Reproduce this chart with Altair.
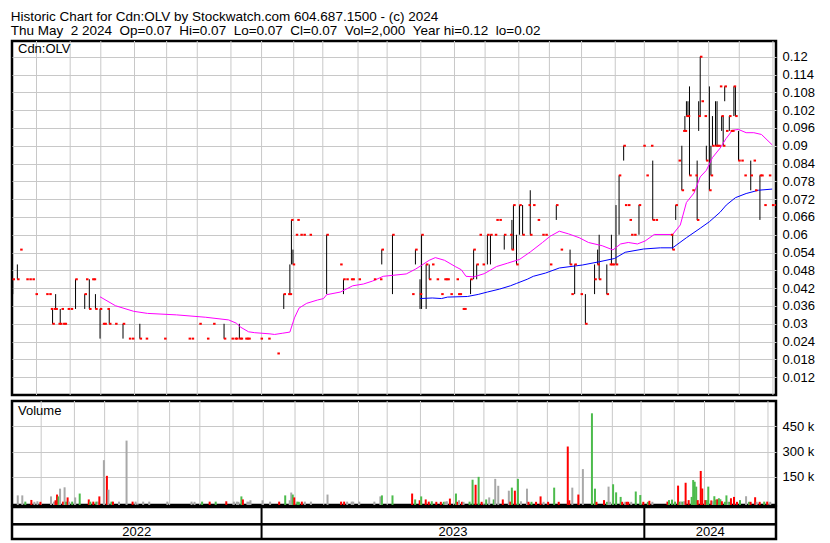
import altair as alt
import pandas as pd

FONT = "Liberation Sans"
GRID = "#c8c8c8"

header_lines = [
    "Historic Chart for Cdn:OLV by Stockwatch.com 604.687.1500 - (c) 2024",
    "Thu May\u00a0\u00a02 2024\u00a0\u00a0Op=0.07\u00a0\u00a0Hi=0.07\u00a0\u00a0Lo=0.07\u00a0\u00a0Cl=0.07\u00a0\u00a0Vol=2,000\u00a0\u00a0Year hi=0.12\u00a0\u00a0lo=0.02",
]
price_ticks = [0.012, 0.018, 0.024, 0.03, 0.036, 0.042, 0.048, 0.054, 0.06, 0.066,
               0.072, 0.078, 0.084, 0.09, 0.096, 0.102, 0.108, 0.114, 0.12]
volume_ticks = [150000, 300000, 450000]
holidays = ["2022-05-23", "2022-07-01", "2022-08-01", "2022-09-05", "2022-10-10", "2022-12-26",
            "2022-12-27", "2023-01-02", "2023-02-20", "2023-04-07", "2023-05-22", "2023-07-03",
            "2023-08-07", "2023-09-04", "2023-10-09", "2023-12-25", "2023-12-26", "2024-01-01",
            "2024-02-19", "2024-03-29"]

# trading session number (0 = 2022-05-09 ... 498 = 2024-05-02)
session = [0, 3, 5, 9, 11, 13, 15, 22, 24, 25,
           26, 27, 28, 30, 31, 32, 33, 34, 36, 38,
           41, 47, 48, 50, 52, 53, 54, 57, 59, 60,
           62, 63, 67, 72, 76, 78, 83, 87, 99, 115,
           117, 122, 127, 131, 138, 143, 145, 146, 148, 149,
           152, 153, 154, 162, 167, 173, 177, 180, 181, 182,
           183, 185, 186, 188, 190, 194, 205, 214, 216, 218,
           221, 222, 226, 236, 240, 241, 248, 261, 263, 266,
           267, 270, 272, 274, 277, 280, 282, 283, 284, 286,
           290, 291, 292, 294, 295, 299, 301, 303, 305, 307,
           310, 312, 315, 316, 318, 321, 325, 326, 327, 329,
           331, 333, 337, 338, 340, 343, 346, 348, 351, 355,
           358, 364, 365, 367, 371, 374, 380, 382, 383, 388,
           390, 391, 392, 394, 396, 399, 400, 402, 403, 404,
           406, 409, 412, 414, 417, 418, 420, 430, 431, 433,
           435, 437, 438, 439, 440, 441, 442, 444, 446, 447,
           448, 449, 450, 452, 453, 455, 456, 457, 459, 460,
           461, 462, 463, 464, 465, 466, 468, 469, 470, 471,
           472, 474, 476, 478, 482, 484, 485, 488, 489, 491,
           494, 496, 498]
high = [.045, .05, .055, .045, .045, .045, .04, .04, .04, .035,
        .035, .035, .04, .03, .035, .035, .03, .03, .035, .035,
        .045, .04, .045, .045, .045, .045, .04, .035, .03, .03,
        .035, .035, .03, .03, .025, .025, .03, .025, .025, .025,
        .025, .03, .025, .03, .03, .025, .025, .025, .03, .025,
        .025, .025, .025, .025, .025, .02, .04, .04, .05, .065,
        .055, .06, .065, .06, .06, .06, .06, .05, .045, .045,
        .045, .045, .045, .045, .045, .055, .06, .04, .055, .045,
        .06, .05, .05, .05, .045, .04, .045, .045, .045, .04,
        .045, .04, .04, .035, .035, .045, .055, .05, .06, .05,
        .06, .06, .06, .065, .065, .06, .06, .065, .07, .06,
        .07, .07, .07, .075, .07, .065, .06, .06, .05, .07,
        .055, .055, .04, .05, .04, .04, .05, .055, .06, .05,
        .05, .06, .05, .07, .08, .09, .07, .07, .065, .06,
        .06, .07, .09, .08, .09, .085, .065, .06, .06, .07,
        .085, .09, .095, .10, .105, .105, .11, .075, .08, .085,
        .105, .12, .105, .10, .09, .11, .09, .10, .105, .105,
        .09, .11, .10, .10, .11, .095, .10, .095, .095, .11,
        .11, .095, .085, .08, .085, .085, .075, .08, .08, .07,
        .08, .07, .07]
low = [.04, .045, .055, .045, .045, .045, .04, .04, .04, .035,
       .03, .035, .035, .03, .03, .035, .03, .03, .035, .035,
       .035, .035, .045, .035, .045, .045, .035, .025, .03, .03,
       .035, .03, .03, .025, .025, .025, .025, .025, .025, .025,
       .025, .03, .025, .03, .025, .025, .025, .025, .025, .025,
       .025, .025, .025, .025, .025, .02, .035, .04, .04, .05,
       .05, .06, .065, .06, .06, .06, .04, .05, .04, .045,
       .045, .045, .045, .045, .045, .05, .04, .04, .05, .035,
       .035, .035, .045, .05, .045, .04, .045, .045, .045, .04,
       .045, .04, .04, .035, .035, .04, .045, .045, .06, .05,
       .05, .05, .06, .065, .065, .055, .06, .055, .055, .05,
       .06, .06, .07, .06, .07, .065, .06, .06, .05, .065,
       .055, .05, .04, .04, .04, .03, .04, .05, .045, .04,
       .05, .05, .05, .05, .06, .085, .07, .07, .065, .06,
       .06, .06, .09, .08, .09, .065, .065, .06, .055, .065,
       .085, .075, .095, .095, .10, .10, .08, .075, .08, .065,
       .095, .10, .105, .10, .085, .075, .08, .09, .09, .09,
       .09, .11, .095, .09, .105, .095, .095, .095, .095, .10,
       .10, .085, .085, .08, .075, .085, .075, .065, .08, .07,
       .08, .07, .07]
close = [.045, .045, .055, .045, .045, .045, .04, .04, .04, .035,
         .03, .035, .035, .03, .03, .035, .03, .03, .035, .035,
         .045, .04, .045, .035, .045, .045, .035, .035, .03, .03,
         .035, .03, .03, .03, .025, .025, .025, .025, .025, .025,
         .025, .03, .025, .03, .025, .025, .025, .025, .025, .025,
         .025, .025, .025, .025, .025, .02, .04, .04, .04, .065,
         .05, .06, .065, .06, .06, .06, .06, .05, .045, .045,
         .045, .045, .045, .045, .045, .055, .06, .04, .055, .04,
         .06, .05, .045, .05, .045, .04, .045, .045, .045, .04,
         .045, .04, .04, .035, .035, .045, .055, .05, .06, .05,
         .06, .06, .06, .065, .065, .06, .06, .055, .07, .05,
         .07, .06, .07, .06, .07, .065, .06, .06, .05, .07,
         .055, .05, .04, .05, .04, .03, .045, .05, .045, .04,
         .05, .05, .05, .05, .08, .09, .07, .07, .065, .06,
         .06, .07, .09, .08, .09, .065, .065, .06, .055, .07,
         .085, .075, .095, .095, .10, .10, .08, .075, .08, .065,
         .10, .12, .105, .10, .085, .075, .08, .09, .09, .09,
         .09, .11, .10, .09, .11, .095, .10, .095, .095, .11,
         .10, .085, .085, .08, .08, .085, .075, .08, .08, .07,
         .08, .07, .07]
volume_k = [40, 40, 3, 13, 2, 5, 2, 34, 3, 11,
            45, 34, 80, 3, 88, 3, 28, 3, 3, 28,
            51, 16, 3, 3, 3, 3, 34, 249, 156, 74,
            3, 3, 3, 365, 3, 3, 3, 3, 3, 3,
            2, 3, 3, 3, 5, 3, 3, 2, 34, 16,
            3, 2, 11, 11, 3, 3, 40, 11, 57, 45,
            28, 3, 2, 3, 3, 3, 45, 3, 3, 3,
            3, 3, 3, 3, 34, 40, 40, 51, 16, 11,
            34, 16, 3, 5, 2, 2, 2, 3, 5, 21,
            51, 2, 11, 2, 2, 3, 133, 103, 150, 2,
            16, 28, 16, 138, 97, 16, 68, 3, 86, 68,
            138, 5, 80, 2, 2, 2, 34, 2, 2, 86,
            2, 330, 11, 86, 45, 196, 527, 80, 2, 12,
            2, 92, 2, 106, 58, 31, 2, 2, 2, 2,
            2, 63, 42, 2, 2, 8, 2, 3, 12, 15,
            3, 98, 3, 3, 3, 5, 115, 12, 31, 131,
            121, 92, 12, 185, 81, 12, 12, 92, 10, 5,
            35, 15, 17, 23, 17, 5, 2, 40, 2, 2,
            23, 31, 2, 12, 35, 2, 2, 29, 2, 2,
            3, 3, 2]
move = ["f", "f", "u", "d", "f", "f", "d", "f", "f", "d",
        "d", "u", "f", "d", "f", "u", "d", "f", "u", "f",
        "u", "d", "u", "d", "u", "f", "d", "f", "d", "f",
        "u", "d", "f", "f", "d", "f", "f", "f", "f", "f",
        "f", "u", "d", "u", "d", "f", "f", "f", "u", "d",
        "f", "f", "f", "f", "f", "d", "u", "f", "f", "u",
        "d", "u", "u", "d", "f", "f", "f", "d", "d", "f",
        "f", "f", "f", "f", "f", "u", "u", "d", "u", "d",
        "u", "d", "d", "u", "d", "d", "u", "f", "f", "d",
        "u", "d", "f", "d", "f", "u", "u", "d", "u", "d",
        "u", "f", "u", "f", "f", "d", "f", "d", "u", "d",
        "u", "f", "f", "d", "u", "d", "d", "f", "d", "u",
        "d", "d", "d", "f", "d", "f", "u", "u", "d", "d",
        "u", "f", "f", "u", "u", "u", "d", "f", "d", "d",
        "f", "u", "u", "d", "u", "d", "f", "d", "u", "u",
        "u", "d", "u", "f", "u", "f", "d", "d", "u", "u",
        "u", "u", "d", "d", "d", "d", "u", "u", "d", "f",
        "u", "u", "d", "u", "u", "d", "u", "u", "f", "u",
        "d", "d", "d", "u", "f", "u", "d", "d", "f", "d",
        "u", "d", "f"]

# moving averages
ma_pink_session = [57, 67, 72, 79, 88, 107, 126, 141, 146, 149,
                   154, 158, 168, 171, 176, 181, 184, 187, 192, 199,
                   203, 205, 214, 222, 229, 235, 242, 257, 263, 267,
                   272, 276, 282, 289, 293, 296, 301, 308, 316, 323,
                   331, 338, 346, 351, 357, 363, 370, 376, 385, 392,
                   397, 402, 408, 413, 419, 431, 436, 440, 445, 449,
                   453, 457, 462, 466, 470, 474, 479, 484, 489, 496]
ma_pink = [0.0391, 0.0361, 0.0353, 0.0342, 0.0335, 0.0330, 0.0322, 0.0313, 0.0302, 0.0288,
           0.0273, 0.0270, 0.0266, 0.0264, 0.0268, 0.0272, 0.0320, 0.0353, 0.0369, 0.0380,
           0.0385, 0.0398, 0.0407, 0.0428, 0.0434, 0.0444, 0.0460, 0.0468, 0.0484, 0.0497,
           0.0514, 0.0523, 0.0514, 0.0493, 0.0482, 0.0460, 0.0458, 0.0469, 0.0493, 0.0504,
           0.0517, 0.0542, 0.0574, 0.0595, 0.0612, 0.0603, 0.0590, 0.0574, 0.0563, 0.0549,
           0.0569, 0.0574, 0.0569, 0.0579, 0.0601, 0.0601, 0.0633, 0.0709, 0.0741, 0.0795,
           0.0817, 0.0860, 0.0892, 0.0925, 0.0952, 0.0955, 0.0944, 0.0944, 0.0938, 0.0903]
ma_blue_session = [266, 274, 280, 284, 297, 304, 310, 318, 325, 329,
                   336, 340, 348, 357, 372, 383, 393, 400, 412, 423,
                   431, 440, 449, 455, 462, 466, 472, 479, 487, 496]
ma_blue = [0.0385, 0.0387, 0.0385, 0.0390, 0.0392, 0.0399, 0.0407, 0.0417, 0.0428, 0.0436,
           0.0450, 0.0460, 0.0471, 0.0488, 0.0498, 0.0509, 0.0520, 0.0541, 0.0552, 0.0556,
           0.0556, 0.0590, 0.0622, 0.0644, 0.0676, 0.0700, 0.0725, 0.0739, 0.0750, 0.0754]

n_rec = len(session)
assert all(len(a) == n_rec for a in (high, low, close, volume_k, move))

# ---- trading calendar -> month / year separators
cal = pd.bdate_range("2022-05-09", "2024-05-02")
cal = cal[~cal.isin(pd.to_datetime(holidays))]
n = len(cal)
cal_df = pd.DataFrame({"date": cal, "s": range(n)})
firsts = cal_df.groupby([cal_df.date.dt.year, cal_df.date.dt.month])["s"].min()
month_bounds = [s - 0.5 for s in firsts if s > 0]
yr = cal_df.groupby(cal_df.date.dt.year)["s"].agg(["min", "max"])
year_bounds = [s - 0.5 for s in yr["min"] if s > 0]
years_df = pd.DataFrame({"year": [str(y) for y in yr.index],
                         "mid": ((yr["min"] + yr["max"]) / 2).tolist()})

df = pd.DataFrame({"session": session, "high": high, "low": low, "close": close,
                   "volume": [v * 1000 for v in volume_k], "move": move})
pink = pd.DataFrame({"session": ma_pink_session, "value": ma_pink})
blue = pd.DataFrame({"session": ma_blue_session, "value": ma_blue})
months = pd.DataFrame({"b": month_bounds})
yb = pd.DataFrame({"b": year_bounds})

W, PH, VH, BH = 764, 354, 104, 32
FRAME = alt.ViewBackground(stroke="black", strokeWidth=2.5, fill="white")
xs = alt.Scale(domain=[-0.5, n - 0.5], nice=False, zero=False)
X = alt.X("session:Q", scale=xs, axis=None)

ys = alt.Scale(domain=[0.006, 0.1253], nice=False, zero=False)
yaxis = alt.Axis(orient="right", values=price_ticks, format=".3~f", grid=True, gridColor=GRID,
                 gridWidth=1, ticks=False, domain=False, title=None, labelPadding=6,
                 labelFontSize=13, labelFont=FONT, labelColor="black", labelBound=False,
                 labelFlush=False, labelOverlap=False)

vgrid = alt.Chart(months).mark_rule(color=GRID, strokeWidth=1).encode(
    x=alt.X("b:Q", scale=xs, axis=None))

hl = alt.Chart(df).mark_rule(color="black", strokeWidth=1, clip=True).encode(
    x=X, y=alt.Y("high:Q", scale=ys, axis=yaxis), y2="low:Q")
cl = alt.Chart(df).mark_tick(color="#ff0000", orient="horizontal", size=2.5, thickness=2,
                             opacity=1, xOffset=1, clip=True).encode(
    x=X, y=alt.Y("close:Q", scale=ys, axis=yaxis))
l_pink = alt.Chart(pink).mark_line(color="#ff00ff", strokeWidth=1, clip=True).encode(
    x=X, y=alt.Y("value:Q", scale=ys, axis=yaxis))
l_blue = alt.Chart(blue).mark_line(color="#0000ff", strokeWidth=1, clip=True).encode(
    x=X, y=alt.Y("value:Q", scale=ys, axis=yaxis))
lbl_price = alt.Chart(pd.DataFrame({"t": ["Cdn:OLV"]})).mark_text(
    align="left", baseline="middle", font=FONT, fontSize=13, color="black").encode(
    x=alt.value(6), y=alt.value(8), text="t:N")

price = alt.layer(vgrid, hl, l_pink, l_blue, cl, lbl_price).properties(
    width=W, height=PH, view=FRAME)

vs = alt.Scale(domain=[-17000, 600000], nice=False, zero=False)
vaxis = alt.Axis(orient="right", values=volume_ticks, labelExpr="format(datum.value/1000, 'd') + ' k'",
                 grid=True, gridColor=GRID, gridWidth=1, ticks=False, domain=False, title=None,
                 labelPadding=6, labelFontSize=13, labelFont=FONT, labelColor="black")
bars = alt.Chart(df).mark_bar(size=2, clip=True).encode(
    x=X, y=alt.Y("volume:Q", scale=vs, axis=vaxis), y2=alt.datum(-17000),
    color=alt.Color("move:N", scale=alt.Scale(domain=["u", "d", "f"],
                                              range=["#4cbb4c", "#ff0000", "#a8a8a8"]), legend=None))
lbl_vol = alt.Chart(pd.DataFrame({"t": ["Volume"]})).mark_text(
    align="left", baseline="middle", font=FONT, fontSize=13, color="black").encode(
    x=alt.value(6), y=alt.value(10), text="t:N")
volume = alt.layer(vgrid, bars, lbl_vol).properties(width=W, height=VH, view=FRAME)

bys = alt.Scale(domain=[0, 1], nice=False, zero=False)
hsep = alt.Chart(years_df).mark_rule(color="black", strokeWidth=2).encode(
    y=alt.YDatum(0.46, scale=bys, axis=None))
vsep = alt.Chart(yb).mark_rule(color="black", strokeWidth=2).encode(
    x=alt.X("b:Q", scale=xs, axis=None))
ytext = alt.Chart(years_df).mark_text(font=FONT, fontSize=13, color="black",
                                      baseline="middle", align="center").encode(
    x=alt.X("mid:Q", scale=xs, axis=None), y=alt.YDatum(0.22, scale=bys, axis=None), text="year:N")
bottom = alt.layer(hsep, vsep, ytext).properties(width=W, height=BH, view=FRAME)

top = alt.vconcat(price, volume, spacing=2)
chart = alt.vconcat(top, bottom, spacing=-4).properties(
    title=alt.TitleParams(text=header_lines, anchor="start", font=FONT, fontSize=13.5,
                          fontWeight="normal", color="black", lineHeight=14, offset=2, dx=1),
    padding={"left": 1, "top": 1, "right": 1, "bottom": 1},
).configure_view(stroke="black", strokeWidth=2.5).configure(background="white")

chart.save("out.html", embed_options={"renderer": "svg", "actions": False})
